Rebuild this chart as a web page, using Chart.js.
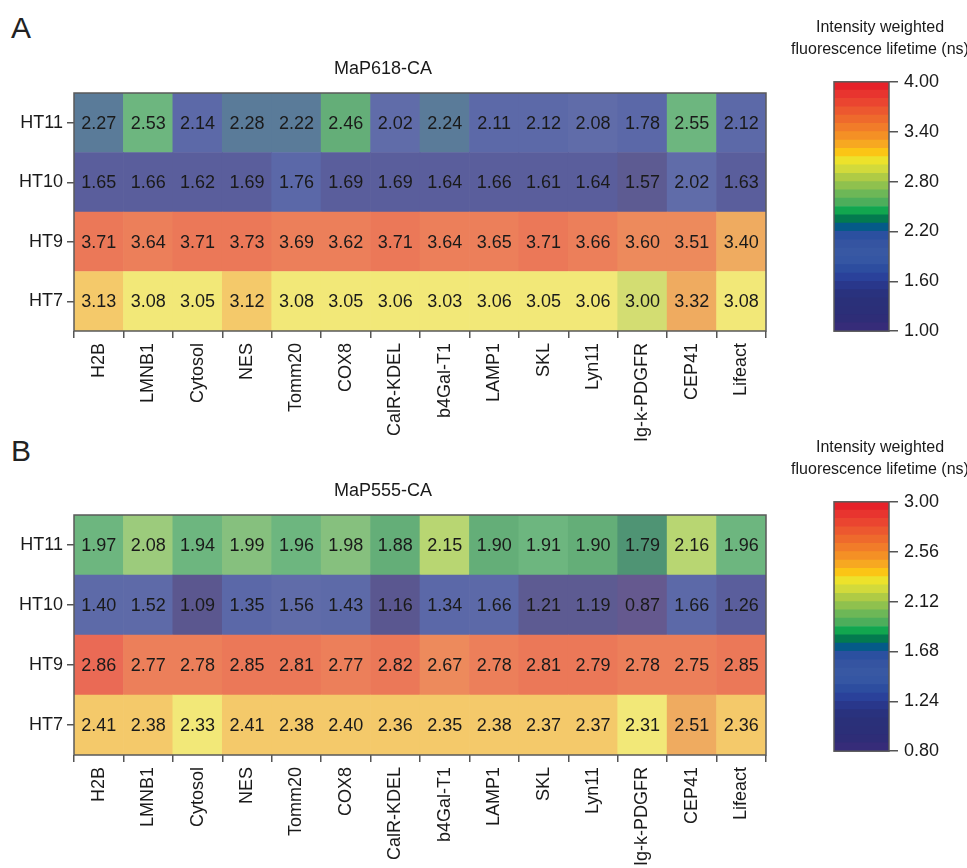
<!DOCTYPE html>
<html>
<head>
<meta charset="utf-8">
<script src="https://cdn.jsdelivr.net/npm/chart.js@4"></script>
<style>
  body { margin: 0; width: 967px; height: 868px; overflow: hidden; background: #fff; font-family: 'Liberation Sans', Arial, sans-serif; position: relative; }
  canvas, .letter { position: absolute; }
  .letter { font-size: 30px; color: #222; line-height: 1; }
</style>
</head>
<body>
<div class="letter" style="left:11px; top:13px;">A</div>
<div class="letter" style="left:11px; top:436px;">B</div>
<canvas id="heatA" width="780" height="400" style="left:0; top:50px;"></canvas>
<canvas id="barA" width="210" height="338" style="left:775px; top:10px;"></canvas>
<canvas id="heatB" width="780" height="404" style="left:0; top:470px;"></canvas>
<canvas id="barB" width="210" height="338" style="left:775px; top:430px;"></canvas>
<script>
// columnas y filas (filas de abajo hacia arriba)
const columns = ['H2B', 'LMNB1', 'Cytosol', 'NES', 'Tomm20', 'COX8', 'CalR-KDEL', 'b4Gal-T1', 'LAMP1', 'SKL', 'Lyn11', 'Ig-k-PDGFR', 'CEP41', 'Lifeact'];
const rowLabels = ['HT7', 'HT9', 'HT10', 'HT11'];

// MaP618-CA
const a_HT7  = [3.13, 3.08, 3.05, 3.12, 3.08, 3.05, 3.06, 3.03, 3.06, 3.05, 3.06, 3.00, 3.32, 3.08];
const a_HT9  = [3.71, 3.64, 3.71, 3.73, 3.69, 3.62, 3.71, 3.64, 3.65, 3.71, 3.66, 3.60, 3.51, 3.40];
const a_HT10 = [1.65, 1.66, 1.62, 1.69, 1.76, 1.69, 1.69, 1.64, 1.66, 1.61, 1.64, 1.57, 2.02, 1.63];
const a_HT11 = [2.27, 2.53, 2.14, 2.28, 2.22, 2.46, 2.02, 2.24, 2.11, 2.12, 2.08, 1.78, 2.55, 2.12];
const a_ticks = [1.00, 1.60, 2.20, 2.80, 3.40, 4.00];

// MaP555-CA
const b_HT7  = [2.41, 2.38, 2.33, 2.41, 2.38, 2.40, 2.36, 2.35, 2.38, 2.37, 2.37, 2.31, 2.51, 2.36];
const b_HT9  = [2.86, 2.77, 2.78, 2.85, 2.81, 2.77, 2.82, 2.67, 2.78, 2.81, 2.79, 2.78, 2.75, 2.85];
const b_HT10 = [1.40, 1.52, 1.09, 1.35, 1.56, 1.43, 1.16, 1.34, 1.66, 1.21, 1.19, 0.87, 1.66, 1.26];
const b_HT11 = [1.97, 2.08, 1.94, 1.99, 1.96, 1.98, 1.88, 2.15, 1.90, 1.91, 1.90, 1.79, 2.16, 1.96];
const b_ticks = [0.80, 1.24, 1.68, 2.12, 2.56, 3.00];

// paleta de la barra de color (30 niveles, de abajo hacia arriba)
const barPalette = [
  '#362c79', '#2e2d77', '#2b2f78', '#2a3079', '#29327e', '#29378b', '#2a419a', '#2d4d9f', '#3556a3', '#3858a3',
  '#3554a1', '#2b50a0', '#055a88', '#037a4f', '#12a64f', '#4dae5b', '#6db757', '#8fc14e', '#afcb45', '#d2da3b',
  '#ede22b', '#fbc515', '#f7a821', '#f49025', '#f17c29', '#ee6a2c', '#ec582f', '#ea4530', '#e8342f', '#e62129'
];
// las celdas del heatmap se ven más claras (misma escala)
const cellPalette = [
  '#65598f', '#5f578d', '#5c578e', '#5b578f', '#5a5790', '#5d5b92', '#5a5e9c', '#5b68a8', '#5d6aa8', '#5e6aa8',
  '#606ca9', '#5c69a8', '#5a7b99', '#4f9474', '#64ae78', '#6db67f', '#86c07e', '#9ccb7c', '#b8d672', '#d3dd72',
  '#f2e878', '#f4c96a', '#f2bb66', '#efab60', '#ee9c5e', '#ed8a5c', '#ec7f5a', '#eb7858', '#ea6a55', '#e95a50'
];

const FONT = "'Liberation Sans', Arial, sans-serif";
const TXT = '#1a1a1a';

function binIndex(v, min, max) {
  const step = (max - min) / cellPalette.length;
  const i = Math.ceil((v - min) / step - 1e-9) - 1;
  return Math.max(0, Math.min(cellPalette.length - 1, i));
}

// dibuja los valores en el centro de cada celda
const cellText = {
  id: 'cellText',
  afterDatasetsDraw(chart) {
    const ctx = chart.ctx;
    ctx.save();
    ctx.font = '18px ' + FONT;
    ctx.fillStyle = TXT;
    ctx.textAlign = 'center';
    ctx.textBaseline = 'middle';
    chart.data.datasets.forEach((ds, r) => {
      chart.getDatasetMeta(r).data.forEach((el, i) => {
        ctx.fillText(ds.values[i].toFixed(2), el.x, (el.y + el.base) / 2 + 1);
      });
    });
    ctx.restore();
  }
};

// marco gris alrededor del área
const frame = {
  id: 'frame',
  afterDatasetsDraw(chart) {
    const a = chart.chartArea, ctx = chart.ctx;
    ctx.save();
    ctx.strokeStyle = '#5a5a5a';
    ctx.lineWidth = 1.5;
    ctx.strokeRect(a.left, a.top, a.right - a.left, a.bottom - a.top);
    ctx.restore();
  }
};

function heatmap(id, title, rows, min, max, titlePadTop) {
  const datasets = rows.map((vals, r) => ({
    values: vals,
    data: vals.map(() => [r - 0.5, r + 0.5]),
    backgroundColor: vals.map(v => cellPalette[binIndex(v, min, max)]),
    borderWidth: 0,
    grouped: false,
    barPercentage: 1,
    categoryPercentage: 1
  }));
  return new Chart(document.getElementById(id), {
    type: 'bar',
    data: { labels: columns, datasets: datasets },
    options: {
      responsive: false,
      animation: false,
      layout: { padding: { right: 14 } },
      plugins: {
        legend: { display: false },
        tooltip: { enabled: false },
        title: { display: true, text: title, color: TXT, font: { family: FONT, size: 18, weight: 'normal' }, padding: { top: titlePadTop, bottom: 13.4 } }
      },
      scales: {
        x: {
          grid: { drawOnChartArea: false, drawTicks: true, tickLength: 7, color: '#555', lineWidth: 1.5 },
          border: { display: false },
          ticks: { color: TXT, font: { family: FONT, size: 18 }, minRotation: 90, maxRotation: 90, padding: 5 },
          afterFit: s => { s.height = 119; }
        },
        y: {
          min: -0.5, max: rows.length - 0.5,
          afterBuildTicks: s => { s.ticks = rowLabels.map((_, i) => ({ value: i })); },
          grid: { drawOnChartArea: false, drawTicks: true, tickLength: 7, color: '#555', lineWidth: 1.5 },
          border: { display: false },
          ticks: { color: TXT, font: { family: FONT, size: 18 }, padding: 4, callback: v => rowLabels[v] },
          afterFit: s => { s.width = 74; }
        }
      }
    },
    plugins: [cellText, frame]
  });
}

function colorbar(id, min, max, ticks) {
  const step = (max - min) / barPalette.length;
  const datasets = barPalette.map((c, i) => ({
    data: [[min + i * step, min + (i + 1) * step]],
    yAxisID: 'y',
    backgroundColor: c,
    borderWidth: 0,
    grouped: false,
    barPercentage: 1,
    categoryPercentage: 1
  }));
  return new Chart(document.getElementById(id), {
    type: 'bar',
    data: { labels: [''], datasets: datasets },
    options: {
      responsive: false,
      animation: false,
      layout: { padding: { bottom: 10 } },
      plugins: {
        legend: { display: false },
        tooltip: { enabled: false },
        title: {
          display: true,
          text: ['Intensity weighted', 'fluorescence lifetime (ns)'],
          color: TXT,
          font: { family: FONT, size: 16, weight: 'normal', lineHeight: 1.4 },
          padding: { top: 6, bottom: 21 }
        }
      },
      scales: {
        x: { display: false },
        // eje vacío a la izquierda solo para reservar espacio
        left: {
          position: 'left',
          grid: { display: false },
          border: { display: false },
          ticks: { display: false },
          afterFit: s => { s.width = 59; }
        },
        y: {
          position: 'right',
          min: min, max: max,
          afterBuildTicks: s => { s.ticks = ticks.map(v => ({ value: v })); },
          grid: { drawOnChartArea: false, drawTicks: true, tickLength: 9, color: '#555', lineWidth: 1.5 },
          border: { display: false },
          ticks: { color: TXT, font: { family: FONT, size: 18 }, padding: 6, callback: v => v.toFixed(2) },
          afterFit: s => { s.width = 96; }
        }
      }
    },
    plugins: [frame]
  });
}

heatmap('heatA', 'MaP618-CA', [a_HT7, a_HT9, a_HT10, a_HT11], 1.0, 4.0, 8);
colorbar('barA', 1.0, 4.0, a_ticks);
heatmap('heatB', 'MaP555-CA', [b_HT7, b_HT9, b_HT10, b_HT11], 0.8, 3.0, 10);
colorbar('barB', 0.8, 3.0, b_ticks);
</script>
</body>
</html>
